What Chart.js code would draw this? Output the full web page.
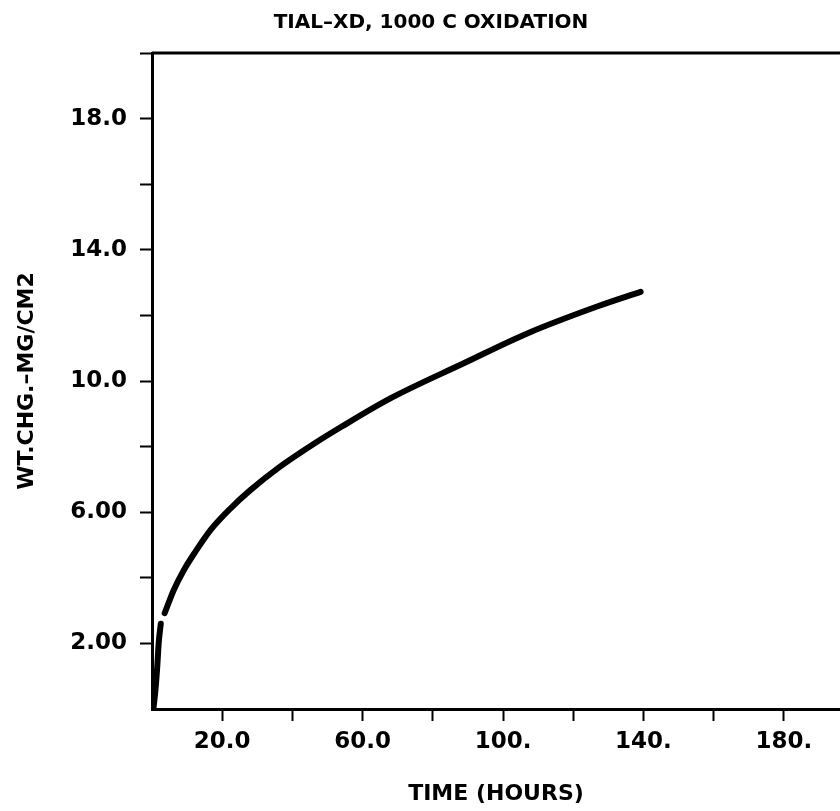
<!DOCTYPE html>
<html>
<head>
<meta charset="utf-8">
<script src="https://cdn.jsdelivr.net/npm/chart.js@4"></script>
<style>
  html, body { margin: 0; padding: 0; background: #fff; }
  #wrap { width: 840px; height: 811px; position: relative; }
</style>
</head>
<body>
<div id="wrap"><canvas id="oxChart"></canvas></div>
<script>
// TiAl-XD oxidation curve (hours, mg/cm2)
// null splits the two drawn pieces of the curve
const hours = [
  0.4, 1.0, 1.5, 1.9, 2.5,
  null,
  3.6, 6.2, 9.1, 12.4, 16.7, 22.4, 28.1, 36.1, 45.6, 54.2,
  67.9, 88.8, 106.9, 126.8, 139.2
];

const wtChg = [
  0.0, 0.6, 1.3, 2.0, 2.6,
  null,
  2.92, 3.63, 4.24, 4.80, 5.46, 6.12, 6.68, 7.36, 8.05, 8.62,
  9.47, 10.54, 11.45, 12.27, 12.72
];

const xTicks = [20, 40, 60, 80, 100, 120, 140, 160, 180];
const xLabels = { 20: '20.0', 60: '60.0', 100: '100.', 140: '140.', 180: '180.' };
const yTicks = [2, 4, 6, 8, 10, 12, 14, 16, 18, 20];
const yLabels = { 2: '2.00', 6: '6.00', 10: '10.0', 14: '14.0', 18: '18.0' };

const points = hours.map((h, i) => (h === null ? { x: null, y: null } : { x: h, y: wtChg[i] }));

const FONT = '"DejaVu Sans", "Liberation Sans", Arial, sans-serif';

// top frame line + title
const framePlugin = {
  id: 'frame',
  afterDraw(chart) {
    const { ctx, chartArea } = chart;
    ctx.save();
    ctx.strokeStyle = '#000';
    ctx.lineWidth = 3;
    ctx.beginPath();
    ctx.moveTo(chartArea.left, chartArea.top);
    ctx.lineTo(chartArea.right, chartArea.top);
    ctx.stroke();

    ctx.fillStyle = '#000';
    ctx.font = 'bold 20px ' + FONT;
    ctx.textAlign = 'center';
    ctx.textBaseline = 'middle';
    ctx.fillText('TIAL\u2013XD, 1000 C OXIDATION', 431, 23);
    ctx.restore();
  }
};

new Chart(document.getElementById('oxChart'), {
  type: 'line',
  data: {
    datasets: [{
      data: points,
      borderColor: '#000',
      borderWidth: 6,
      borderCapStyle: 'round',
      pointRadius: 0,
      cubicInterpolationMode: 'monotone',
      spanGaps: false,
      fill: false
    }]
  },
  options: {
    responsive: true,
    maintainAspectRatio: false,
    animation: false,
    layout: { padding: { top: 53, right: 0, left: 0, bottom: 0 } },
    plugins: {
      legend: { display: false },
      tooltip: { enabled: false }
    },
    scales: {
      x: {
        type: 'linear',
        min: 0,
        max: 196,
        afterBuildTicks: (axis) => { axis.ticks = xTicks.map(v => ({ value: v })); },
        afterFit: (axis) => { axis.height = 102; },
        border: { color: '#000', width: 3 },
        grid: {
          drawOnChartArea: false,
          drawTicks: true,
          tickLength: 12,
          tickWidth: 2,
          tickColor: '#000'
        },
        ticks: {
          color: '#000',
          font: { family: FONT, size: 23, weight: 'bold' },
          padding: 7,
          maxRotation: 0,
          autoSkip: false,
          callback: (v) => xLabels[v] || ''
        },
        title: {
          display: true,
          text: 'TIME (HOURS)',
          color: '#000',
          font: { family: FONT, size: 22, weight: 'bold' },
          padding: { top: 13 }
        }
      },
      y: {
        type: 'linear',
        min: 0,
        max: 20,
        afterBuildTicks: (axis) => { axis.ticks = yTicks.map(v => ({ value: v })); },
        afterFit: (axis) => { axis.width = 152; },
        border: { color: '#000', width: 3 },
        grid: {
          drawOnChartArea: false,
          drawTicks: true,
          tickLength: 12,
          tickWidth: 2,
          tickColor: '#000'
        },
        ticks: {
          color: '#000',
          font: { family: FONT, size: 23, weight: 'bold' },
          padding: 13,
          autoSkip: false,
          callback: (v) => yLabels[v] || ''
        },
        title: {
          display: true,
          text: 'WT.CHG.\u2013MG/CM2',
          color: '#000',
          font: { family: FONT, size: 22, weight: 'bold' },
          padding: { top: 14, bottom: 0 }
        }
      }
    }
  },
  plugins: [framePlugin]
});
</script>
</body>
</html>
